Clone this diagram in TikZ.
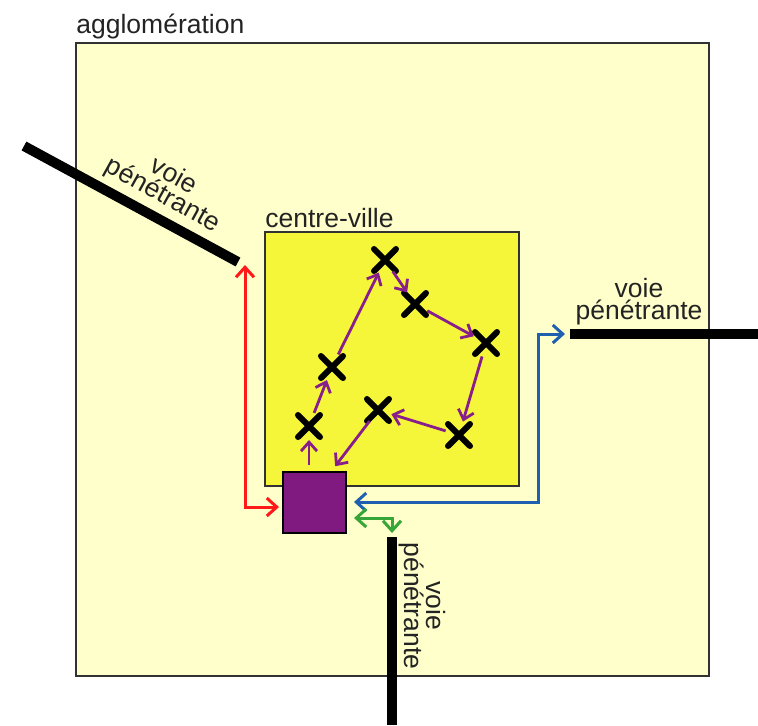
\documentclass[tikz,border=0pt]{standalone}
\usepackage{fontspec}
\setmainfont{Liberation Sans}
\usetikzlibrary{arrows.meta,shapes.misc,calc}
\definecolor{aggfill}{RGB}{255,255,204}
\definecolor{cvfill}{RGB}{245,245,58}
\definecolor{hubcol}{RGB}{128,26,128}
\definecolor{parr}{RGB}{135,30,140}
\definecolor{rarr}{RGB}{255,25,25}
\definecolor{barr}{RGB}{30,95,175}
\definecolor{garr}{RGB}{55,165,55}
\definecolor{edgec}{RGB}{50,50,50}
\definecolor{txt}{RGB}{35,35,35}
\tikzset{
  barb/.tip={Straight Barb[length=5pt,width=9pt]},
  pbarb/.tip={Straight Barb[length=4.5pt,width=8pt]},
  lbl/.style={font=\fontsize{13.25}{11}\selectfont, text=txt, inner sep=0pt, align=center},
  road/.style={line width=5pt, black},
  xm/.style={cross out, draw=black, line width=3pt, minimum size=8pt, inner sep=0pt, line cap=round},
  region/.style={draw=edgec, line width=1pt, inner sep=0pt},
  parrow/.style={draw=parr, line width=1.4pt, -pbarb, shorten <=7pt, shorten >=7pt},
  link/.style={line width=1.5pt, barb-barb},
}
\begin{document}
\begin{tikzpicture}[x=0.5pt,y=-0.5pt]
\path[use as bounding box, fill=white] (0,0) rectangle (758,725);
% regions
\node[region, fill=aggfill, minimum width=316.5pt, minimum height=316.5pt] (agglo) at (392.5,359.5) {};
\node[lbl, anchor=base west] (agglolbl) at (76,33) {agglomération};
\node[region, fill=cvfill, minimum width=127pt, minimum height=127pt] (cv) at (392,359) {};
\node[lbl, anchor=base west] (cvlbl) at (265,227) {centre-ville};
% hub
\node[draw=black, fill=hubcol, line width=1pt, minimum width=31.5pt, minimum height=30.5pt, inner sep=0pt] (hub) at (314.5,502.5) {};
% roads
\coordinate (r1a) at (24,146);
\coordinate (r1b) at (238,262);
\coordinate (r2a) at (570,334);
\coordinate (r2b) at (758,334);
\coordinate (r3a) at (392,537);
\coordinate (r3b) at (392,725);
\draw[road] (r1a) -- (r1b);
\draw[road] (r2a) -- (r2b);
\draw[road] (r3a) -- (r3b);
\node[lbl, rotate=-29] (r1lbl) at (168,186) {voie\\pénétrante};
\node[lbl] (r2lbl) at (639,302) {voie\\pénétrante};
\node[lbl, rotate=-90] (r3lbl) at (422,606) {voie\\pénétrante};
% stops
\node[xm] (A) at (385,260) {};
\node[xm] (B) at (415,304) {};
\node[xm] (C) at (486,343) {};
\node[xm] (D) at (459,435) {};
\node[xm] (E) at (378,410) {};
\node[xm] (F) at (332,367) {};
\node[xm] (G) at (309,426) {};
% tour
\draw[parrow, shorten <=3pt] ($(hub.north)+(-5.5,0)$) -- (G.center);
\draw[parrow] (G.center) -- (F.center);
\draw[parrow] (F.center) -- (A.center);
\draw[parrow] (A.center) -- (B.center);
\draw[parrow] (B.center) -- (C.center);
\draw[parrow] (C.center) -- (D.center);
\draw[parrow] (D.center) -- (E.center);
\draw[parrow, shorten >=3pt] (E.center) -- ($(hub.north)+(17,0)$);
% links to roads
\coordinate (redtop) at (245,265);
\draw[link, rarr, shorten >=1.5pt] (redtop) |- ($(hub.west)+(0,4.5)$);
\draw[link, barr, shorten <=3.5pt, shorten >=2.5pt] ($(hub.east)+(0,-0.5)$) -| ($(r2a)+(-32,0)$) -- (r2a);
\draw[link, garr, shorten <=3.5pt, shorten >=2pt] ($(hub.east)+(0,15.5)$) -| (r3a);
\end{tikzpicture}
\end{document}
